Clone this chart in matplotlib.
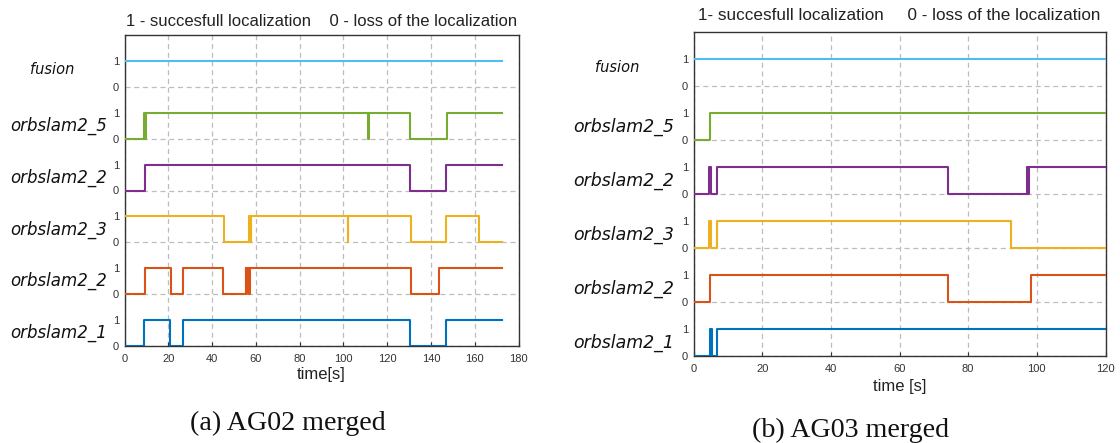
import matplotlib
matplotlib.use("Agg")
import matplotlib.pyplot as plt
import matplotlib.transforms as mtransforms
from matplotlib.ticker import FixedLocator, FixedFormatter

# ---------------- data ----------------
channel_labels = ["orbslam2_1", "orbslam2_2", "orbslam2_3", "orbslam2_2", "orbslam2_5", "fusion"]
channel_colors = ["#0072BD", "#D95319", "#EDB120", "#7E2F8E", "#77AC30", "#4DBEEE"]

# AG02 merged (left panel): step change times and states
ag02_orb1_t = [0, 9.0, 21.0, 26.5, 130.4, 146.8, 172.5]
ag02_orb1_v = [0, 1, 0, 1, 0, 1, 1]
ag02_orb2_t = [0, 9.3, 21.3, 26.6, 44.9, 55.3, 55.6, 55.9, 56.7, 57.4, 130.8, 143.5, 172.5]
ag02_orb2_v = [0, 1, 0, 1, 0, 1, 0, 1, 0, 1, 0, 1, 1]
ag02_orb3_t = [0, 45.5, 57.1, 57.6, 58.0, 102.0, 102.3, 130.8, 147.1, 162.0, 172.5]
ag02_orb3_v = [1, 0, 1, 0, 1, 0, 1, 0, 1, 0, 0]
ag02_orb2b_t = [0, 9.3, 130.4, 147.0, 172.5]
ag02_orb2b_v = [0, 1, 0, 1, 1]
ag02_orb5_t = [0, 9.0, 9.3, 9.6, 111.3, 111.5, 130.4, 147.3, 172.5]
ag02_orb5_v = [0, 1, 0, 1, 0, 1, 0, 1, 1]
ag02_fusion_t = [0, 172.5]
ag02_fusion_v = [1, 1]

# AG03 merged (right panel)
ag03_orb1_t = [0, 4.9, 5.3, 6.9, 120]
ag03_orb1_v = [0, 1, 0, 1, 1]
ag03_orb2_t = [0, 4.7, 74.2, 98.3, 120]
ag03_orb2_v = [0, 1, 0, 1, 1]
ag03_orb3_t = [0, 4.6, 5.1, 6.9, 92.6, 120]
ag03_orb3_v = [0, 1, 0, 1, 0, 0]
ag03_orb2b_t = [0, 4.6, 5.1, 6.8, 74.2, 97.0, 97.3, 97.6, 120]
ag03_orb2b_v = [0, 1, 0, 1, 0, 1, 0, 1, 1]
ag03_orb5_t = [0, 4.8, 120]
ag03_orb5_v = [0, 1, 1]
ag03_fusion_t = [0, 120]
ag03_fusion_v = [1, 1]

left_xticks = [0, 20, 40, 60, 80, 100, 120, 140, 160, 180]
right_xticks = [0, 20, 40, 60, 80, 100, 120]

left_title = "1 - succesfull localization    0 - loss of the localization"
right_title = "1- succesfull localization     0 - loss of the localization"
left_xlabel = "time[s]"
right_xlabel = "time [s]"
left_caption = "(a) AG02 merged"
right_caption = "(b) AG03 merged"

left_series = [(ag02_orb1_t, ag02_orb1_v), (ag02_orb2_t, ag02_orb2_v), (ag02_orb3_t, ag02_orb3_v),
               (ag02_orb2b_t, ag02_orb2b_v), (ag02_orb5_t, ag02_orb5_v), (ag02_fusion_t, ag02_fusion_v)]
right_series = [(ag03_orb1_t, ag03_orb1_v), (ag03_orb2_t, ag03_orb2_v), (ag03_orb3_t, ag03_orb3_v),
                (ag03_orb2b_t, ag03_orb2b_v), (ag03_orb5_t, ag03_orb5_v), (ag03_fusion_t, ag03_fusion_v)]

# ---------------- figure ----------------
W, H = 1120, 443
fig = plt.figure(figsize=(W / 100, H / 100), dpi=100)
plt.rcParams['font.family'] = ['Liberation Sans', 'DejaVu Sans']

def px_axes(x0, y0, x1, y1):
    return fig.add_axes([x0 / W, (H - y1) / H, (x1 - x0) / W, (y1 - y0) / H])

def draw_panel(ax, series, xmax, xticks, title, xlabel, label_x, label_fs, title_y, xlabel_y,
               title_fs, xpad):
    for i, ((t, v), c) in enumerate(zip(series, channel_colors)):
        off = 2 * i
        ax.step(t, [val + off for val in v], where='post', color=c, lw=1.5, zorder=3)
    ax.set_xlim(0, xmax)
    ax.set_ylim(0, 12)
    ax.set_xticks(xticks)
    ax.set_xticklabels([str(x) for x in xticks], fontsize=8, color='#333333')
    ax.yaxis.set_major_locator(FixedLocator([0, 2, 4, 6, 8, 10]))
    ax.yaxis.set_major_formatter(FixedFormatter(["0"] * 6))
    ax.yaxis.set_minor_locator(FixedLocator([1, 3, 5, 7, 9, 11]))
    ax.yaxis.set_minor_formatter(FixedFormatter(["1"] * 6))
    ax.tick_params(axis='y', which='both', length=0, labelsize=8, labelcolor='#333333', pad=4)
    ax.tick_params(axis='x', which='major', direction='in', length=3, pad=xpad, color='#333333')
    ax.grid(True, which='major', axis='both', linestyle=(0, (4, 3)), color='#bdbdbd', lw=0.9)
    for s in ax.spines.values():
        s.set_color('#333333')
        s.set_linewidth(1.0)
    trans = mtransforms.blended_transform_factory(fig.transFigure, ax.transData)
    for i, lab in enumerate(channel_labels):
        off = 2 * i
        if lab == "fusion":
            ax.text(label_x[1] / W, off + 0.68, lab, transform=trans, ha='center', va='center',
                    fontsize=10.5, style='italic', family=['DejaVu Sans'], color='#111111')
        else:
            ax.text(label_x[0] / W, off + 0.5, lab, transform=trans, ha='center', va='center',
                    fontsize=label_fs, style='italic', family=['DejaVu Sans'], color='#111111')
    bb = ax.get_position()
    fig.text((bb.x0 + bb.x1) / 2, 1 - title_y / H, title, ha='center', va='center',
             fontsize=title_fs, color='#222222')
    fig.text((bb.x0 + bb.x1) / 2, 1 - xlabel_y / H, xlabel, ha='center', va='center',
             fontsize=12, color='#222222')

axL = px_axes(124.5, 35, 518.5, 346)
draw_panel(axL, left_series, 180, left_xticks, left_title, left_xlabel, (59, 52), 12, 21.5, 375,
           12, 6)

axR = px_axes(693.5, 32, 1105.5, 356)
draw_panel(axR, right_series, 120, right_xticks, right_title, right_xlabel, (624, 617), 12.5, 15,
           386, 12.3, 5.5)

fig.text(288 / W, 1 - 423 / H, left_caption, ha='center', va='center', fontsize=20.2,
         family=['Liberation Serif', 'DejaVu Serif'], color='#111111')
fig.text(851 / W, 1 - 430 / H, right_caption, ha='center', va='center', fontsize=20.2,
         family=['Liberation Serif', 'DejaVu Serif'], color='#111111')

fig.savefig("out.png", dpi=100)
